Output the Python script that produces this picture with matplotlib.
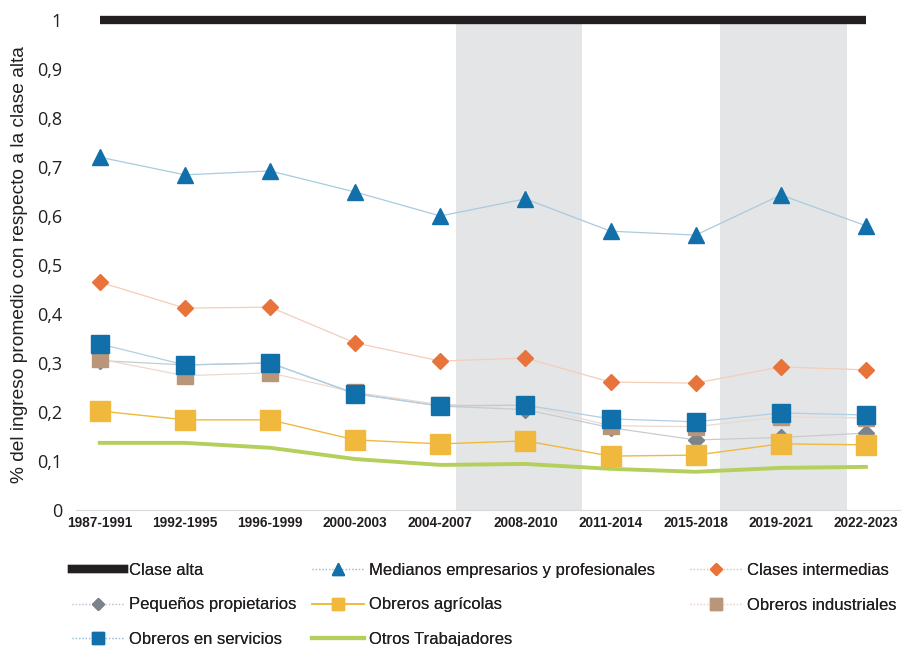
import matplotlib
matplotlib.use('Agg')
import matplotlib.pyplot as plt
from matplotlib.lines import Line2D
import numpy as np

periodos = ['1987-1991', '1992-1995', '1996-1999', '2000-2003', '2004-2007',
            '2008-2010', '2011-2014', '2015-2018', '2019-2021', '2022-2023']

clase_alta = [1, 1, 1, 1, 1, 1, 1, 1, 1, 1]
medianos = [0.720, 0.684, 0.692, 0.649, 0.600, 0.635, 0.569, 0.561, 0.643, 0.580]
intermedias = [0.465, 0.412, 0.414, 0.341, 0.304, 0.310, 0.261, 0.259, 0.292, 0.286]
pequenos = [0.305, 0.296, 0.300, 0.238, 0.212, 0.205, 0.168, 0.143, 0.148, 0.157]
agricolas = [0.202, 0.184, 0.184, 0.143, 0.135, 0.141, 0.110, 0.112, 0.135, 0.133]
industriales = [0.308, 0.274, 0.280, 0.240, 0.215, 0.214, 0.172, 0.170, 0.190, 0.188]
servicios = [0.339, 0.296, 0.300, 0.237, 0.212, 0.214, 0.186, 0.180, 0.198, 0.194]
otros = [0.137, 0.137, 0.127, 0.104, 0.092, 0.094, 0.084, 0.078, 0.086, 0.088]

# shaded periods (in category units)
bandas = [(4.18, 5.67), (7.29, 8.78)]

narrow = ['Liberation Sans', 'DejaVu Sans']
dark = '#231f20'

fig = plt.figure(figsize=(9.07, 6.46), dpi=100)
ax = fig.add_axes([76/907, 136/646, 824/907, 490/646])
x = np.arange(len(periodos))

for a, b in bandas:
    ax.axvspan(a, b, color='#e4e5e7', lw=0, zorder=0)

ax.plot(x, clase_alta, color=dark, lw=6, solid_capstyle='butt',
        clip_on=False, zorder=3)

def serie(vals, col, linecol, mk, ms, lw=0.9):
    ax.plot(x, vals, color=linecol, lw=lw, zorder=2)
    ax.plot(x, vals, ls='none', marker=mk, ms=ms, color=col, mec=col,
            zorder=4, clip_on=False)

serie(medianos, '#1170aa', '#a9cbe0', '^', 11)
serie(intermedias, '#e8743b', '#f5cdb9', 'D', 8)
serie(pequenos, '#7b848c', '#c8cbce', 'D', 8)
serie(industriales, '#b9957a', '#ead9cf', 's', 11)
serie(servicios, '#1170aa', '#b0cfe3', 's', 13)
serie(agricolas, '#f0b93e', '#f0b93e', 's', 14, lw=1.0)
ax.plot(x, otros, color='#b5cf5c', lw=2.8, zorder=3)

ax.set_xlim(-0.28, 9.4)
ax.set_ylim(0, 1)
ax.set_xticks(x)
ax.set_xticklabels(periodos, fontsize=9.8, fontweight='bold', family=narrow, color=dark)
ax.set_yticks(np.arange(0, 1.01, 0.1))
ax.set_yticklabels(['0', '0,1', '0,2', '0,3', '0,4', '0,5', '0,6', '0,7', '0,8', '0,9', '1'],
                   fontsize=13, color=dark, family=['Open Sans', 'DejaVu Sans'])
ax.tick_params(length=0, pad=4)
ax.tick_params(axis='y', pad=10)
for s in ['top', 'right', 'left']:
    ax.spines[s].set_visible(False)
ax.spines['bottom'].set_color('#d9d9d9')
ax.set_ylabel('% del ingreso promedio con respecto a la clase alta', fontsize=13.8,
              color=dark, family=narrow, va='center')
ax.yaxis.set_label_coords(-56/824, 0.5)

def h(col, linecol, mk, ms, lw=0.9, ls=':'):
    return Line2D([], [], color=linecol, lw=lw, ls=ls, marker=mk, ms=ms,
                  mfc=col, mec=col)

columnas = [
    (72, [(Line2D([], [], color=dark, lw=6), 'Clase alta'),
          (h('#7b848c', '#c2c6ca', 'D', 6), 'Pequeños propietarios'),
          (h('#1170aa', '#9cc3dc', 's', 8), 'Obreros en servicios')]),
    (312, [(h('#1170aa', '#9cc3dc', '^', 8), 'Medianos empresarios y profesionales'),
           (h('#f0b93e', '#f0b93e', 's', 8, lw=1.2, ls='-'), 'Obreros agrícolas'),
           (Line2D([], [], color='#b5cf5c', lw=3), 'Otros Trabajadores')]),
    (690, [(h('#e8743b', '#f2c0a6', 'D', 6), 'Clases intermedias'),
           (h('#b9957a', '#e6d2c6', 's', 8), 'Obreros industriales')]),
]
for xpx, items in columnas:
    leg = fig.legend([i[0] for i in items], [i[1] for i in items], loc='upper left',
                     bbox_to_anchor=(xpx/907, 1 - 563/646), frameon=False,
                     handlelength=3.1, handletextpad=0.3, labelspacing=1.17,
                     borderaxespad=0, borderpad=0, prop={'family': narrow, 'size': 12})
    for t in leg.get_texts():
        t.set_color(dark)
    fig.add_artist(leg)

plt.savefig('out.png', dpi=100)
